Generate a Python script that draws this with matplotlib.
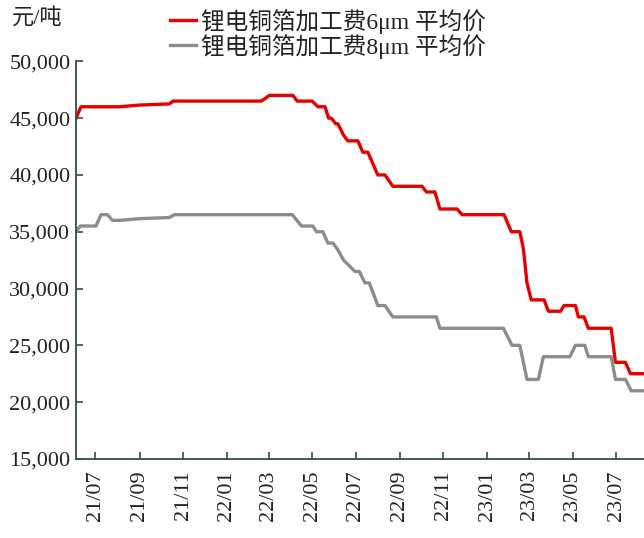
import pandas as pd
import matplotlib
matplotlib.use("Agg")
import matplotlib.pyplot as plt
import matplotlib.dates as mdates
from matplotlib.ticker import FuncFormatter, MultipleLocator

plt.rcParams['font.family'] = ['Liberation Serif', 'Noto Sans CJK SC', 'DejaVu Sans']

# 锂电铜箔加工费 6μm
dates_6um = ['2021-06-04', '2021-06-11', '2021-08-04', '2021-09-01', '2021-10-13',
             '2021-10-18', '2022-02-19', '2022-03-02', '2022-04-04', '2022-04-10',
             '2022-05-01', '2022-05-09', '2022-05-19', '2022-05-24', '2022-05-28',
             '2022-06-03', '2022-06-06', '2022-06-14', '2022-06-20', '2022-07-04',
             '2022-07-11', '2022-07-18', '2022-08-01', '2022-08-11', '2022-08-22',
             '2022-10-02', '2022-10-08', '2022-10-20', '2022-10-27', '2022-11-20',
             '2022-11-27', '2023-01-25', '2023-02-04', '2023-02-16', '2023-02-21',
             '2023-02-26', '2023-03-04', '2023-03-22', '2023-03-28', '2023-04-14',
             '2023-04-19', '2023-05-05', '2023-05-09', '2023-05-17', '2023-05-23',
             '2023-06-24', '2023-06-30', '2023-07-14', '2023-07-21', '2023-08-09']
price_6um = [45000, 46000, 46000, 46150, 46250,
             46500, 46500, 47000, 47000, 46500,
             46500, 46000, 46000, 45000, 45000,
             44500, 44500, 43500, 43000, 43000,
             42000, 42000, 40000, 40000, 39000,
             39000, 38500, 38500, 37000, 37000,
             36500, 36500, 35000, 35000, 33500,
             30500, 29000, 29000, 28000, 28000,
             28500, 28500, 27500, 27500, 26500,
             26500, 23500, 23500, 22500, 22500]

# 锂电铜箔加工费 8μm
dates_8um = ['2021-06-04', '2021-06-10', '2021-07-02', '2021-07-09', '2021-07-18',
             '2021-07-25', '2021-08-04', '2021-09-01', '2021-10-13', '2021-10-20',
             '2022-04-03', '2022-04-16', '2022-05-02', '2022-05-07', '2022-05-16',
             '2022-05-23', '2022-05-30', '2022-06-05', '2022-06-14', '2022-06-30',
             '2022-07-06', '2022-07-14', '2022-07-20', '2022-08-01', '2022-08-11',
             '2022-08-22', '2022-10-22', '2022-10-27', '2023-01-24', '2023-02-05',
             '2023-02-16', '2023-02-26', '2023-03-14', '2023-03-21', '2023-04-27',
             '2023-05-05', '2023-05-18', '2023-05-23', '2023-06-24', '2023-06-30',
             '2023-07-14', '2023-07-22', '2023-08-09']
price_8um = [35000, 35500, 35500, 36500, 36500,
             36000, 36000, 36150, 36250, 36500,
             36500, 35500, 35500, 35000, 35000,
             34000, 34000, 33500, 32500, 31500,
             31500, 30500, 30500, 28500, 28500,
             27500, 27500, 26500, 26500, 25000,
             25000, 22000, 22000, 24000, 24000,
             25000, 25000, 24000, 24000, 22000,
             22000, 21000, 21000]

label_6um = '锂电铜箔加工费6μm 平均价'
label_8um = '锂电铜箔加工费8μm 平均价'

fig = plt.figure(figsize=(6.44, 5.38), dpi=100)
ax = fig.add_axes([0.118, 0.147, 0.882, 0.739])

ax.plot(pd.to_datetime(dates_6um), price_6um, color='#e60000', lw=2.4,
        solid_joinstyle='round', label=label_6um)
ax.plot(pd.to_datetime(dates_8um), price_8um, color='#8c8c8c', lw=2.4,
        solid_joinstyle='round', label=label_8um)

ax.set_xlim(pd.Timestamp('2021-06-04'), pd.Timestamp('2023-08-09'))
ax.set_ylim(15000, 50000)
ax.yaxis.set_major_locator(MultipleLocator(5000))
ax.yaxis.set_major_formatter(FuncFormatter(lambda v, p: f'{v:,.0f}'))
ax.xaxis.set_major_locator(mdates.MonthLocator(bymonth=[1, 3, 5, 7, 9, 11]))
ax.xaxis.set_major_formatter(mdates.DateFormatter('%y/%m'))

for s in ['top', 'right']:
    ax.spines[s].set_visible(False)
for s in ['left', 'bottom']:
    ax.spines[s].set_color('#2f4f4f')
    ax.spines[s].set_linewidth(1.3)

ax.tick_params(axis='both', direction='in', length=5, width=1.2,
               color='#2f4f4f', labelsize=16, labelcolor='#222222')
ax.tick_params(axis='x', rotation=90, pad=8)
ax.tick_params(axis='y', pad=4)

fig.text(0.019, 0.966, '元/吨', fontsize=16, va='center', ha='left', color='#222222')
fig.legend(loc='upper left', bbox_to_anchor=(0.242, 1.01), frameon=False,
           fontsize=17, handlelength=1.1, handletextpad=0.2, labelspacing=0.0,
           borderaxespad=0.2, labelcolor='#222222')

fig.savefig('out.png', dpi=100)
